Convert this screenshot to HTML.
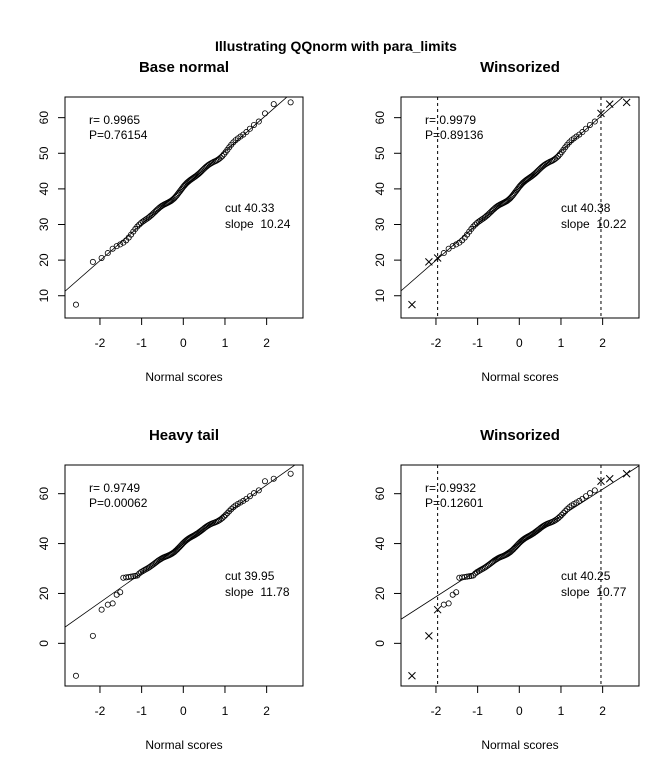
<!DOCTYPE html>
<html><head><meta charset="utf-8"><style>
body{margin:0;background:#fff}
svg text{font-family:"Liberation Sans",Arial,sans-serif;fill:#000}
</style></head><body>
<svg id="s" width="672" height="768" xmlns="http://www.w3.org/2000/svg">
<rect width="672" height="768" fill="#fff"/>
<text x="336" y="51" font-size="14" font-weight="bold" text-anchor="middle">Illustrating QQnorm with para_limits</text>
</svg>
<script>
function qnorm(p){var a=[-39.69683028665376,220.9460984245205,-275.9285104469687,138.357751867269,-30.66479806614716,2.506628277459239],b=[-54.47609879822406,161.5858368580409,-155.6989798598866,66.80131188771972,-13.28068155288572],c=[-0.007784894002430293,-0.3223964580411365,-2.400758277161838,-2.549732539343734,4.374664141464968,2.938163982698783],d=[0.007784695709041462,0.3224671290700398,2.445134137142996,3.754408661907416];var q,r;if(p<0.02425){q=Math.sqrt(-2*Math.log(p));return(((((c[0]*q+c[1])*q+c[2])*q+c[3])*q+c[4])*q+c[5])/((((d[0]*q+d[1])*q+d[2])*q+d[3])*q+1);}if(p>1-0.02425){q=Math.sqrt(-2*Math.log(1-p));return-(((((c[0]*q+c[1])*q+c[2])*q+c[3])*q+c[4])*q+c[5])/((((d[0]*q+d[1])*q+d[2])*q+d[3])*q+1);}q=p-0.5;r=q*q;return(((((a[0]*r+a[1])*r+a[2])*r+a[3])*r+a[4])*r+a[5])*q/(((((b[0]*r+b[1])*r+b[2])*r+b[3])*r+b[4])*r+1);}
var n=100,z=[];for(var i=0;i<n;i++)z.push(qnorm((i+0.5)/n));
function wig(t){return 0.45*Math.sin(5.5*t)+0.3*Math.sin(11*t+1);}
var base=z.map(function(t){return 40.33+10.24*t+wig(t);});
base[0]=7.5;base[1]=19.5;base[2]=20.6;base[99]=64.3;base[98]=63.8;base[97]=61.2;
var heavy=z.map(function(t){return 39.95+11.78*t+wig(t)*1.1;});
heavy[0]=-13;heavy[1]=3;heavy[2]=13.5;heavy[3]=15.5;heavy[4]=16;heavy[5]=19.5;heavy[6]=20.5;
for(var i=7;i<14;i++)heavy[i]=26.3+0.15*(i-7);
heavy[99]=68;heavy[98]=66;heavy[97]=65;
var S=document.getElementById('s'),h='';
function panel(ox,oy,title,ys,ymin,ymax,yticks,cut,slope,r,P,wins){
 var L=ox+65,R=ox+303,T=oy+97,B=oy+318;
 var X=function(v){return 183.3+ox+v*41.67;};
 var Y=function(v){return T+(ymax-v)/(ymax-ymin)*(B-T);};
 h+='<text x="'+(ox+184)+'" y="'+(oy+72)+'" font-size="15" font-weight="bold" text-anchor="middle">'+title+'</text>';
 h+='<clipPath id="c'+ox+oy+'"><rect x="'+L+'" y="'+T+'" width="'+(R-L)+'" height="'+(B-T)+'"/></clipPath>';
 h+='<rect x="'+L+'" y="'+T+'" width="'+(R-L)+'" height="'+(B-T)+'" fill="none" stroke="#000"/>';
 [-2,-1,0,1,2].forEach(function(v){var x=X(v);h+='<line x1="'+x+'" y1="'+B+'" x2="'+x+'" y2="'+(B+7)+'" stroke="#000"/><text x="'+x+'" y="'+(B+29)+'" font-size="12" text-anchor="middle">'+v+'</text>';});
 yticks.forEach(function(v){var y=Y(v);h+='<line x1="'+L+'" y1="'+y+'" x2="'+(L-7)+'" y2="'+y+'" stroke="#000"/><text transform="translate('+(L-17)+','+y+') rotate(-90)" font-size="12" text-anchor="middle">'+v+'</text>';});
 h+='<text x="'+(ox+184)+'" y="'+(oy+381)+'" font-size="12" text-anchor="middle">Normal scores</text>';
 h+='<g clip-path="url(#c'+ox+oy+')"><line x1="'+X(-3)+'" y1="'+Y(cut-3*slope)+'" x2="'+X(3)+'" y2="'+Y(cut+3*slope)+'" stroke="#000" stroke-width="0.8"/>';
 if(wins){[-1.96,1.96].forEach(function(v){h+='<line x1="'+X(v)+'" y1="'+T+'" x2="'+X(v)+'" y2="'+B+'" stroke="#000" stroke-dasharray="3,3"/>';});}
 h+='</g>';
 for(var i=0;i<n;i++){var x=X(z[i]),y=Y(ys[i]);
  if(wins&&(i<3||i>96)){h+='<path d="M'+(x-3.5)+' '+(y-3.5)+'L'+(x+3.5)+' '+(y+3.5)+'M'+(x-3.5)+' '+(y+3.5)+'L'+(x+3.5)+' '+(y-3.5)+'" stroke="#000" fill="none"/>';}
  else h+='<circle cx="'+x+'" cy="'+y+'" r="2.6" fill="none" stroke="#000" stroke-width="0.8"/>';}
 h+='<text x="'+(ox+89)+'" y="'+(oy+124)+'" font-size="12">r= '+r+'</text><text x="'+(ox+89)+'" y="'+(oy+139)+'" font-size="12">P='+P+'</text>';
 h+='<text x="'+(ox+225)+'" y="'+(oy+212)+'" font-size="12">cut '+cut.toFixed(2)+'</text><text x="'+(ox+225)+'" y="'+(oy+228)+'" font-size="12">slope &#160;'+slope.toFixed(2)+'</text>';
}
var tA=[10,20,30,40,50,60],tB=[0,20,40,60];
panel(0,0,'Base normal',base,3.75,65.8,tA,40.33,10.24,'0.9965','0.76154',false);
panel(336,0,'Winsorized',base,3.75,65.8,tA,40.38,10.22,'0.9979','0.89136',true);
panel(0,368,'Heavy tail',heavy,-17.1,71.5,tB,39.95,11.78,'0.9749','0.00062',false);
panel(336,368,'Winsorized',heavy,-17.1,71.5,tB,40.25,10.77,'0.9932','0.12601',true);
S.insertAdjacentHTML('beforeend',h);
</script>
</body></html>
